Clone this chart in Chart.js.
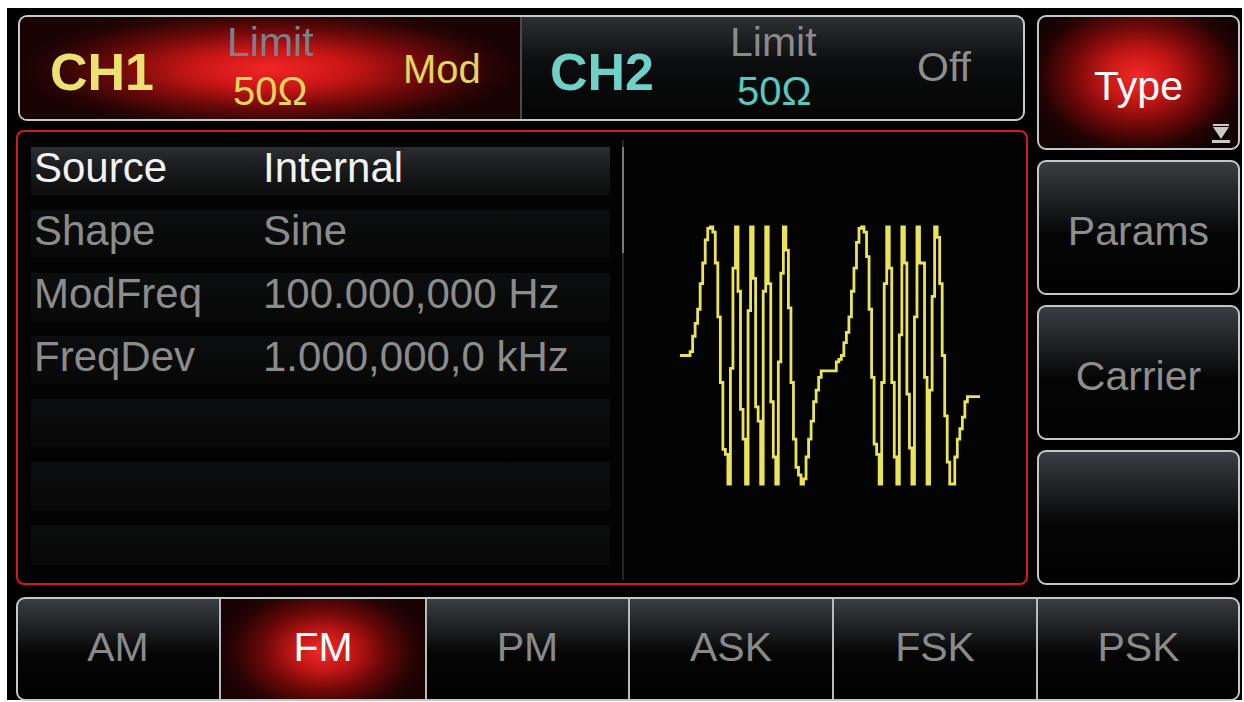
<!DOCTYPE html>
<html>
<head>
<meta charset="utf-8">
<script src="https://cdn.jsdelivr.net/npm/chart.js@4"></script>
<style>
  body { margin: 0; background: #fff; width: 1244px; height: 702px; overflow: hidden; position: relative; font-family: 'Liberation Sans', Arial, sans-serif; }
  .abs { position: absolute; }
  .screen { left: 7px; top: 8px; width: 1235px; height: 692px; background: #020202; }
  .txt { position: absolute; white-space: nowrap; line-height: 1; }
  .btn { position: absolute; box-sizing: border-box; border: 2px solid #c4c6c8; border-radius: 9px;
         background: linear-gradient(to bottom, #3a3d41 0%, #1d1f22 30%, #050505 55%, #020202 100%); }
  .btn.on { background: radial-gradient(ellipse 115px 85px at 50% 45%, #f22a2a 0%, #c41616 30%, #6a0808 60%, #240303 85%, #120202 100%); }
</style>
</head>
<body>
<div class="abs screen"></div>

<!-- channel header -->
<div class="abs" style="left:18px;top:15px;width:1007px;height:106px;box-sizing:border-box;border:2px solid #c8c8c8;border-radius:9px;overflow:hidden;background:linear-gradient(to bottom,#2c2f33 0%,#0c0d0e 45%,#040404 100%);">
  <div class="abs" style="left:0;top:0;width:500px;height:102px;background:radial-gradient(ellipse 250px 62px at 250px 52px,#f02626 0%,#cc1616 30%,#6e0909 62%,#2a0404 88%,#1a0303 100%);"></div>
  <div class="abs" style="left:500px;top:0;width:2px;height:102px;background:#4a4a4a;"></div>
</div>
<div id="header"></div>

<!-- main panel -->
<div class="abs" style="left:16px;top:130px;width:1012px;height:455px;box-sizing:border-box;border:2px solid #d41a1a;border-radius:8px;background:#030303;"></div>
<div id="rows"></div>
<div class="abs" style="left:622px;top:140px;width:2px;height:440px;background:#262626;"></div>
<div class="abs" style="left:622px;top:147px;width:2px;height:106px;background:#7a7a7a;"></div>

<canvas id="wave" width="340" height="290" class="abs" style="left:660px;top:210px;"></canvas>

<div id="softkeys"></div>
<div id="tabs"></div>

<script>
// sampled FM waveform, amplitude in % of full scale, one value per sample step
const waveCycle1 = [
    0, 0, 0, 0, 3, 15, 25, 36, 56, 72,
    90, 99, 100, 96, 72, 30, -21, -73, -77, -100,
    -10, 68, 100, 50, -42, -65, -100, 35, 100, 60,
    -40, -51, -100, 50, 100, 56, -36, -79, -100, -5,
    64, 100, 82, 37, -21, -65, -87, -93, -100, -96,
    -79, -65, -51, -36, -27, -17
];
const waveCycle2 = [
    -12, -12, -12, -12, -12, -12,
    -5, -3, 0, 10, 18, 30, 50, 68, 88, 99,
    100, 96, 77, 36, -17, -69, -77, -100, -21, 56,
    100, 68, -21, -79, -100, 16, 100, 72, -30, -72,
    -100, 30, 100, 72, 72, -17, -100, -27, 46, 100,
    92, 56, 0, -47, -83, -100, -100, -79, -65, -57,
    -48, -36, -32, -32, -32, -32, -32, -32
];
const samples = waveCycle1.concat(waveCycle2);

const paramNames = ['Source', 'Shape', 'ModFreq', 'FreqDev'];
const paramValues = ['Internal', 'Sine', '100.000,000 Hz', '1.000,000,0 kHz'];
const softkeys = ['Type', 'Params', 'Carrier', ''];
const tabs = ['AM', 'FM', 'PM', 'ASK', 'FSK', 'PSK'];

const c = (e) => document.querySelector(e);

function text(str, left, baseline, size, color, extra) {
    const top = baseline - 0.8465 * size;
    return `<div class="txt" style="left:${left}px;top:${top}px;font-size:${size}px;color:${color};${extra || ''}">${str}</div>`;
}

// header texts
c('#header').innerHTML =
    text('CH1', 50, 90, 52, '#ebe272', 'font-weight:bold;') +
    text('Limit', 227, 57, 41, '#7c8189') +
    text('50Ω', 233, 105, 40, '#e6d65e') +
    text('Mod', 403, 83, 40, '#e2d660') +
    text('CH2', 550, 90, 52, '#6fd0c6', 'font-weight:bold;') +
    text('Limit', 730, 57, 41, '#8a8a8a') +
    text('50Ω', 737, 105, 40, '#57c9c0') +
    text('Off', 917, 82, 41, '#8e8e8e');

// parameter rows
let rowsHtml = '';
for (let i = 0; i < 7; i++) {
    const top = 147 + i * 63;
    const bg = i === 0
        ? 'linear-gradient(to bottom,#2c2d2e 0%,#1a1b1c 45%,#0c0c0c 100%)'
        : 'linear-gradient(to bottom,#0c0d0e 0%,#080808 100%)';
    rowsHtml += `<div class="abs" style="left:31px;top:${top}px;width:579px;height:${i === 6 ? 40 : 48}px;background:${bg};"></div>`;
}
paramNames.forEach((name, i) => {
    const base = 183 + i * 63;
    const col = i === 0 ? '#f2f2f2' : '#8c8c8c';
    rowsHtml += text(name, 34, base, 42, col) + text(paramValues[i], 263, base, 42, col);
});
c('#rows').innerHTML = rowsHtml;

// right soft keys
let keysHtml = '';
softkeys.forEach((label, i) => {
    const top = 15 + i * 145;
    keysHtml += `<div class="btn${i === 0 ? ' on' : ''}" style="left:1037px;top:${top}px;width:203px;height:135px;"></div>`;
    if (label) {
        keysHtml += text(label, 1037, top + 86, 41, i === 0 ? '#ffffff' : '#8e8e8e', 'width:203px;text-align:center;');
    }
});
// small arrow on the Type key
keysHtml += `<div class="abs" style="left:1213px;top:124px;width:16px;height:2px;background:#c8c8c8;"></div>
<div class="abs" style="left:1213px;top:127px;width:0;height:0;border-left:8px solid transparent;border-right:8px solid transparent;border-top:12px solid #c8c8c8;"></div>
<div class="abs" style="left:1212px;top:140px;width:18px;height:3px;background:#c8c8c8;"></div>`;
c('#softkeys').innerHTML = keysHtml;

// bottom tabs
const tabEdges = [16, 220, 426, 629, 833, 1037, 1240];
let tabsHtml = `<div class="abs" style="left:16px;top:597px;width:1224px;height:104px;box-sizing:border-box;border:2px solid #c4c6c8;border-radius:9px;overflow:hidden;background:linear-gradient(to bottom,#3a3d41 0%,#1d1f22 30%,#050505 55%,#020202 100%);">`;
tabs.forEach((label, i) => {
    const l = tabEdges[i] - 18, w = tabEdges[i + 1] - tabEdges[i];
    if (label === 'FM') {
        tabsHtml += `<div class="abs" style="left:${l}px;top:0;width:${w}px;height:104px;background:radial-gradient(ellipse 105px 70px at 50% 50%,#f22a2a 0%,#c41616 28%,#6a0808 58%,#2a0404 85%,#1a0202 100%);"></div>`;
    }
    if (i > 0) {
        tabsHtml += `<div class="abs" style="left:${l - 1}px;top:0;width:2px;height:104px;background:#b8babc;"></div>`;
    }
});
tabsHtml += '</div>';
tabs.forEach((label, i) => {
    const w = tabEdges[i + 1] - tabEdges[i];
    tabsHtml += text(label, tabEdges[i], 662, 41, label === 'FM' ? '#ffffff' : '#8a8a8a', `width:${w}px;text-align:center;`);
});
c('#tabs').innerHTML = tabsHtml;

// waveform
new Chart(c('#wave'), {
    type: 'line',
    data: {
        labels: samples.map((v, i) => i),
        datasets: [{
            data: samples,
            borderColor: '#ebe35a',
            borderWidth: 2.8,
            stepped: 'before',
            pointRadius: 0,
            fill: false,
            clip: false
        }]
    },
    options: {
        responsive: false,
        animation: false,
        events: [],
        layout: { padding: { left: 20, right: 20, top: 17, bottom: 16 } },
        plugins: { legend: { display: false }, tooltip: { enabled: false } },
        scales: {
            x: { type: 'linear', display: false, min: 0, max: samples.length - 1 },
            y: { display: false, min: -100, max: 100 }
        }
    }
});
</script>
</body>
</html>
